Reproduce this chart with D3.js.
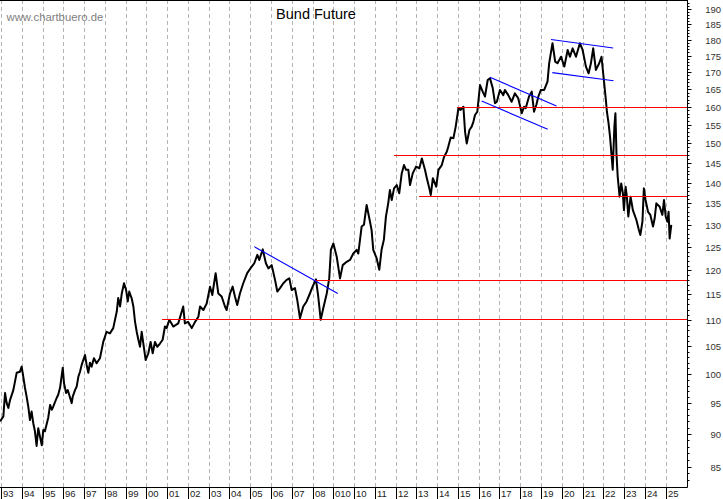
<!DOCTYPE html>
<html>
<head>
<meta charset="utf-8">
<script src="https://cdn.jsdelivr.net/npm/d3@7"></script>
<style>
  body { margin: 0; background: #fff; }
  svg { display: block; font-family: Arial, "Liberation Sans", sans-serif; }
</style>
</head>
<body>
<svg id="chart" width="723" height="499"></svg>
<script>
'use strict';
// Bund Future, price path (decimal year / price)
const dates = [
  1992.93,1993.09,1993.17,1993.25,1993.33,1993.41,1993.57,1993.73,1993.89,1993.97,
  1994.05,1994.13,1994.21,1994.29,1994.37,1994.45,1994.53,1994.61,1994.69,1994.77,
  1994.85,1994.94,1995.01,1995.09,1995.25,1995.34,1995.42,1995.49,1995.66,1995.73,
  1995.82,1995.95,1996.01,1996.11,1996.19,1996.26,1996.38,1996.43,1996.54,1996.62,
  1996.70,1996.78,1996.86,1997.02,1997.10,1997.18,1997.26,1997.34,1997.45,1997.58,
  1997.74,1997.90,1998.06,1998.22,1998.38,1998.55,1998.62,1998.71,1998.79,1998.90,
  1999.00,1999.08,1999.15,1999.27,1999.35,1999.43,1999.51,1999.59,1999.67,1999.75,
  1999.83,1999.94,2000.07,2000.18,2000.28,2000.39,2000.50,2000.63,2000.76,2000.87,
  2000.95,2001.08,
  2001.27,2001.51,2001.75,2001.83,2001.98,2002.16,2002.32,2002.48,2002.56,2002.72,
  2002.88,2003.04,2003.15,2003.31,2003.44,2003.60,2003.76,2003.84,2004.00,2004.13,
  2004.24,2004.35,2004.48,2004.64,2004.83,2005.05,2005.17,2005.32,2005.41,2005.58,
  2005.73,2005.85,2006.01,2006.17,2006.28,2006.41,2006.57,2006.73,2006.86,2006.97,
  2007.13,2007.24,2007.37,2007.53,2007.69,2007.82,2007.98,2008.14,2008.25,2008.37,
  2008.49,2008.66,2008.78,2008.86,2008.98,2009.14,2009.30,2009.43,2009.62,2009.78,
  2009.94,2010.10,2010.18,2010.34,2010.45,2010.58,2010.71,2010.82,2010.90,2011.06,
  2011.19,2011.30,2011.41,2011.51,2011.62,2011.70,2011.79,2011.90,2012.03,2012.15,
  2012.27,2012.38,2012.48,2012.59,2012.67,2012.80,2012.96,2013.12,2013.24,2013.39,
  2013.48,2013.60,2013.67,2013.77,2013.93,2014.04,2014.20,2014.31,2014.44,2014.51,
  2014.63,2014.76,2014.87,2015.00,2015.11,2015.24,2015.32,2015.40,2015.53,2015.64,
  2015.72,2015.80,2015.91,2016.04,2016.17,2016.28,2016.41,2016.52,2016.65,2016.76,
  2016.85,2017.00,2017.16,2017.24,2017.40,2017.56,2017.72,2017.88,2018.05,2018.16,
  2018.24,2018.40,2018.53,2018.64,2018.75,2018.85,2018.97,2019.13,2019.29,2019.37,
  2019.45,2019.53,2019.66,2019.77,2019.94,2020.10,2020.26,2020.37,2020.50,2020.66,
  2020.85,2020.98,2021.14,2021.27,2021.38,2021.49,2021.62,2021.78,2021.89,2021.97,
  2022.02,2022.10,2022.15,2022.23,2022.30,2022.38,2022.43,2022.51,2022.56,2022.61,
  2022.67,2022.76,2022.84,2022.92,2022.97,2023.05,2023.11,2023.18,2023.29,2023.40,
  2023.57,2023.69,2023.76,2023.86,2023.93,2024.01,2024.13,2024.24,2024.37,2024.45,
  2024.53,2024.69,2024.82,2024.90,2024.98,2025.06,2025.12,2025.17,2025.25
];
const prices = [
  92.1,92.9,96.8,95.1,94.3,95.6,97.3,100.3,100.5,101.4,
  99.6,97.7,96.2,94.5,92.3,93.7,91.8,90.5,88.2,91.0,
  89.7,88.3,90.7,90.5,92.7,94.8,94.0,94.5,96.0,96.5,
  97.7,101.2,98.5,96.8,97.3,96.5,95.1,96.2,97.3,97.9,
  99.6,100.5,101.7,103.5,101.7,100.3,102.1,101.4,102.9,102.0,
  102.9,105.9,107.8,107.5,108.5,111.7,114.4,112.7,115.3,117.4,
  116.0,113.7,115.7,114.3,112.7,109.7,107.8,106.3,105.0,107.8,
  105.6,102.6,103.8,105.9,103.8,105.9,105.0,105.6,106.3,108.8,
  108.5,110.1,
  108.8,109.4,112.7,109.4,109.7,108.5,109.7,110.7,112.7,112.0,
  113.3,116.7,115.0,119.5,115.3,114.7,112.7,112.0,115.3,116.7,
  114.7,113.0,115.3,117.4,119.5,120.9,121.6,123.4,122.3,124.6,
  121.6,120.5,121.2,118.1,115.7,116.4,117.4,118.1,118.4,116.0,
  116.4,114.0,110.4,112.7,113.7,115.0,116.7,118.2,114.7,110.1,
  112.3,115.3,118.4,124.5,125.9,123.0,118.4,121.2,121.9,122.3,
  123.7,124.5,123.7,129.7,130.1,134.7,131.6,128.9,124.5,122.7,
  120.2,124.5,126.7,132.0,135.1,138.3,135.9,138.7,139.5,137.5,
  142.4,144.5,143.3,143.3,139.5,142.4,144.1,143.7,146.2,143.3,
  141.2,138.7,137.1,141.2,139.1,143.3,144.5,146.6,147.9,149.2,
  151.7,151.5,154.6,159.7,159.2,160.1,153.2,150.1,153.7,154.6,
  155.9,157.8,158.7,166.3,164.4,163.0,167.8,168.3,165.5,161.1,
  161.5,164.9,163.4,164.9,163.4,161.5,163.9,162.5,158.3,160.1,
  159.7,163.0,164.4,158.7,160.6,163.0,164.9,164.9,167.3,172.8,
  175.9,179.0,173.3,172.8,174.8,171.8,176.9,174.8,177.4,174.8,
  179.0,176.9,171.8,169.8,172.8,177.4,170.8,172.8,174.8,169.8,
  166.8,162.0,158.7,155.5,151.9,146.6,143.3,154.6,158.3,147.5,
  141.6,136.7,139.9,137.5,133.5,139.1,136.7,132.0,136.7,133.5,
  131.2,128.9,127.8,130.8,138.7,135.9,133.1,132.4,129.7,131.6,
  135.1,134.3,132.4,135.9,132.0,130.8,133.1,127.0,130.1
];

const years = d3.range(1993, 2026);
const yearLabels = ['93','94','95','96','97','98','99','00','01','02','03','04','05','06','07','08',
  '010','10','11','12','13','14','15','16','17','18','19','20','21','22','23','24','25'];

// horizontal support/resistance levels and where they start
const levels = [160, 147, 136.8, 118, 110.2];
const levelStarts = [2014.93, 2011.90, 2013.11, 2008.06, 2000.73];

// blue trend lines [year, price] start and end
const trendStart = [[2005.17, 125.2], [2016.52, 168.6], [2016.12, 161.7], [2019.46, 180.2], [2019.52, 170.0]];
const trendEnd = [[2009.19, 115.3], [2019.72, 160.3], [2019.30, 153.9], [2022.45, 177.5], [2022.47, 167.6]];

const svg = d3.select('#chart');
const right = 687.5, bottom = 487.5;
const x = d3.scaleLinear().domain([1993, 2025]).range([1.5, 666.1]);
const y = d3.scaleLog().domain([85, 190]).range([467, 9.3]);
const px = v => Math.round(v - 0.5) + 0.5;

// dashed year grid
svg.append('g').selectAll('line').data(years).join('line')
  .attr('x1', d => px(x(d))).attr('x2', d => px(x(d)))
  .attr('y1', 0).attr('y2', bottom)
  .attr('stroke', '#b4b4b4').attr('stroke-dasharray', '4,3');

// price line
const series = d3.zip(dates, prices);
svg.append('path').datum(series)
  .attr('fill', 'none').attr('stroke', '#000').attr('stroke-width', 2)
  .attr('stroke-linejoin', 'round')
  .attr('d', d3.line().x(d => x(d[0])).y(d => y(d[1])));

// red levels
svg.append('g').selectAll('line').data(levels).join('line')
  .attr('x1', (d, i) => x(levelStarts[i])).attr('x2', right)
  .attr('y1', d => px(y(d))).attr('y2', d => px(y(d)))
  .attr('stroke', '#ff0000').attr('stroke-width', 1.2);

// blue trend lines
svg.append('g').selectAll('line').data(trendStart).join('line')
  .attr('x1', d => x(d[0])).attr('y1', d => y(d[1]))
  .attr('x2', (d, i) => x(trendEnd[i][0])).attr('y2', (d, i) => y(trendEnd[i][1]))
  .attr('stroke', '#0000ff').attr('stroke-width', 1.1);

// frame
svg.append('line').attr('x1', 0).attr('x2', right).attr('y1', 0.5).attr('y2', 0.5).attr('stroke', '#000');
svg.append('line').attr('x1', right).attr('x2', right).attr('y1', 0).attr('y2', bottom).attr('stroke', '#000');
svg.append('line').attr('x1', 0).attr('x2', right).attr('y1', bottom).attr('y2', bottom).attr('stroke', '#000');

// right axis: minor ticks every point, labelled every 5
const minor = svg.append('g').attr('transform', `translate(${right},0)`)
  .call(d3.axisRight(y).tickValues(d3.range(83, 193)).tickSize(2).tickFormat(''));
minor.select('.domain').remove();
minor.selectAll('.tick').attr('transform', d => `translate(0,${px(y(d))})`);
const major = svg.append('g').attr('transform', `translate(${right},0)`)
  .call(d3.axisRight(y).tickValues(d3.range(85, 191, 5)).tickSize(4).tickFormat(d3.format('d')));
major.select('.domain').remove();
major.selectAll('.tick').attr('transform', d => `translate(0,${px(y(d))})`);
major.selectAll('text').attr('text-anchor', 'end').attr('x', 33.5)
  .attr('font-size', '9.5px').attr('fill', '#333').attr('font-family', 'Arial, "Liberation Sans", sans-serif');

// bottom axis: year ticks with label to the right of each tick
const xa = svg.append('g').attr('transform', `translate(0,${bottom})`)
  .call(d3.axisBottom(x).tickValues(years).tickSize(12).tickFormat((d, i) => yearLabels[i]));
xa.select('.domain').remove();
xa.selectAll('.tick').attr('transform', d => `translate(${px(x(d))},0)`);
xa.selectAll('text').attr('text-anchor', 'start').attr('x', 1.5).attr('y', 9.5).attr('dy', null)
  .attr('font-size', '9.5px').attr('fill', '#222').attr('font-family', 'Arial, "Liberation Sans", sans-serif');

// texts
svg.append('text').attr('x', 6.5).attr('y', 21).attr('font-size', '11.3px').attr('fill', '#808080')
  .text('www.chartbuero.de');
svg.append('text').attr('x', 316).attr('y', 19).attr('text-anchor', 'middle')
  .attr('font-size', '14.5px').attr('fill', '#000').text('Bund Future');
</script>
</body>
</html>
